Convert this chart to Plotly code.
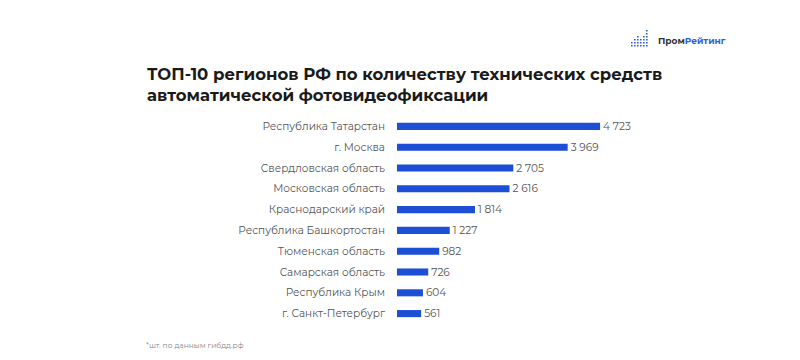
import plotly.graph_objects as go

regions = ["Республика Татарстан", "г. Москва", "Свердловская область", "Московская область",
           "Краснодарский край", "Республика Башкортостан", "Тюменская область",
           "Самарская область", "Республика Крым", "г. Санкт-Петербург"]
values = [4723, 3969, 2705, 2616, 1814, 1227, 982, 726, 604, 561]
value_labels = ["4 723", "3 969", "2 705", "2 616", "1 814", "1 227", "982", "726", "604", "561"]

W, H = 800, 360
OFF = 8  # page body margin offset in the screenshot
PW, PH = 215, 208
ML, MT = 397 - OFF, 116 - OFF
MR, MB = W - ML - PW, H - MT - PH

def px(x):
    return (x - OFF - ML) / PW

def py(y):
    return 1 - (y - OFF - MT) / PH

FONT = "Montserrat, Open Sans, sans-serif"

fig = go.Figure(go.Bar(
    x=values, y=regions, orientation="h",
    marker=dict(color="#1d4fd6", line=dict(width=0)),
    width=0.34,
    text=value_labels, textposition="outside", cliponaxis=False,
    constraintext="none",
    textfont=dict(family=FONT, size=10.5, color="#555555"),
    hoverinfo="skip",
))

shapes = []
# logo dots icon
cols = [(631, 2), (634, 3), (637, 4), (640, 3), (643, 4), (646, 6)]
for cx, n in cols:
    for i in range(n):
        cy = 45 - i * 3
        shapes.append(dict(type="rect", xref="paper", yref="paper",
                           x0=px(cx), x1=px(cx + 1.6), y0=py(cy + 1.6), y1=py(cy),
                           fillcolor="#2b5fd9", line=dict(width=0)))

fig.update_layout(
    width=W, height=H,
    margin=dict(l=ML, r=MR, t=MT, b=MB, autoexpand=False),
    paper_bgcolor="white", plot_bgcolor="white",
    showlegend=False,
    xaxis=dict(range=[0, 5000], visible=False, fixedrange=True),
    yaxis=dict(autorange="reversed", showgrid=False, showline=False, ticks="",
               ticklabelstandoff=11, automargin=False,
               tickfont=dict(family=FONT, size=10.5, color="#555555")),
    font=dict(family=FONT),
    shapes=shapes,
    annotations=[
        dict(text="<b>ТОП-10 регионов РФ по количеству технических средств<br>автоматической фотовидеофиксации</b>",
             xref="paper", yref="paper", x=px(145), y=py(62), xanchor="left", yanchor="top",
             align="left", showarrow=False,
             font=dict(family=FONT, size=16.5, color="#1a1a1a")),
        dict(text="<b><span style='color:#333333'>Пром</span><span style='color:#2b5fd9'>Рейтинг</span></b>",
             xref="paper", yref="paper", x=px(656), y=py(40), xanchor="left", yanchor="middle",
             showarrow=False, font=dict(family=FONT, size=9)),
        dict(text="*шт. по данным гибдд.рф",
             xref="paper", yref="paper", x=px(144), y=py(345), xanchor="left", yanchor="middle",
             showarrow=False, font=dict(family=FONT, size=7.5, color="#888888")),
    ],
)

fig.write_html("out.html")
